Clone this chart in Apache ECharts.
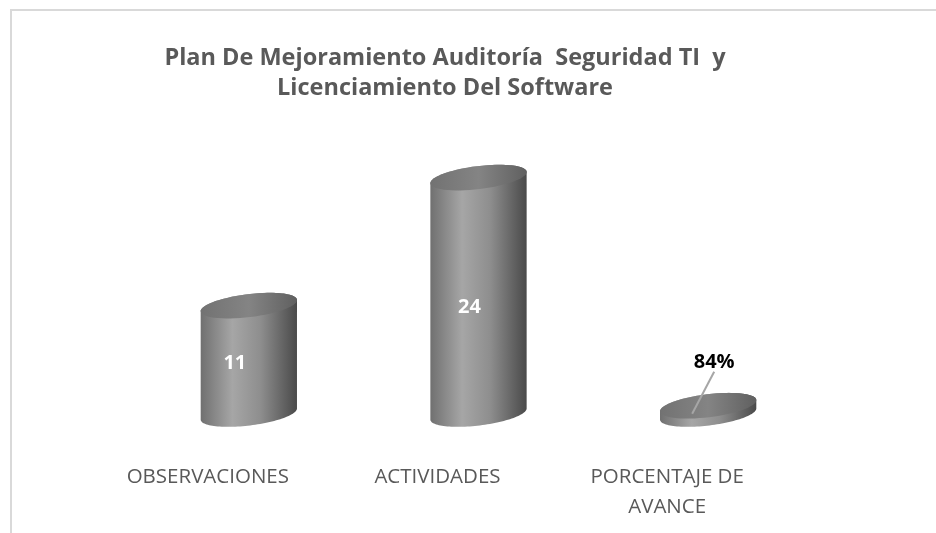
<!DOCTYPE html>
<html><head><meta charset="utf-8">
<script src="https://cdn.jsdelivr.net/npm/echarts@6/dist/echarts.min.js"></script>
<style>html,body{margin:0;padding:0;background:#fff}#c{width:936px;height:533px}</style></head>
<body><div id="c"></div>
<script>
const titleText = 'Plan De Mejoramiento Auditoría  Seguridad TI  y\nLicenciamiento Del Software';
const categories = ['OBSERVACIONES', 'ACTIVIDADES', 'PORCENTAJE DE\nAVANCE'];
const values = [11, 24, 0.84];
const labels = ['11', '24', '84%'];

const chart = echarts.init(document.getElementById('c'), null, {renderer: 'canvas'});
const RX = 48.5, RY = 11.5, TILT = -7 * Math.PI / 180, N = 60;
const labelShift = [[-14, 3], [-9, 11]];
function ell(cx, cy, a0, a1) {
  const pts = [];
  for (let i = 0; i <= N; i++) {
    const t = a0 + (a1 - a0) * i / N;
    const x = RX * Math.cos(t), y = RY * Math.sin(t);
    pts.push([cx + x * Math.cos(TILT) - y * Math.sin(TILT), cy + x * Math.sin(TILT) + y * Math.cos(TILT)]);
  }
  return pts;
}
const bodyFill = new echarts.graphic.LinearGradient(0, 0, 1, 0, [
  {offset: 0, color: '#707070'}, {offset: 0.33, color: '#a6a6a6'},
  {offset: 0.62, color: '#8e8e8e'}, {offset: 1, color: '#4a4a4a'}]);
const topFill = new echarts.graphic.LinearGradient(0, 0, 1, 0, [
  {offset: 0, color: '#727272'}, {offset: 0.5, color: '#848484'}, {offset: 1, color: '#606060'}]);

function renderItem(params, api) {
  const i = api.value(0);
  const base = api.coord([i, 0]), top = api.coord([i, api.value(1)]);
  const cx = base[0];
  const body = ell(cx, base[1], 0, Math.PI).concat(ell(cx, top[1], Math.PI, 2 * Math.PI));
  const children = [
    {type: 'polygon', shape: {points: body}, style: {fill: bodyFill}},
    {type: 'polygon', shape: {points: ell(cx, top[1], 0, 2 * Math.PI)}, style: {fill: topFill}}
  ];
  if (api.value(1) < 2) {
    children.push({type: 'line', shape: {x1: cx - 16, y1: top[1] + 8, x2: cx + 6, y2: top[1] - 34},
      style: {stroke: '#a6a6a6', lineWidth: 2}});
    children.push({type: 'text', style: {text: labels[i], x: cx + 6, y: top[1] - 43, align: 'center', verticalAlign: 'middle',
      fill: '#000', font: 'bold 20px "Open Sans"'}});
  } else {
    children.push({type: 'text', style: {text: labels[i], x: cx + labelShift[i][0], y: (base[1] + top[1]) / 2 + labelShift[i][1],
      align: 'center', verticalAlign: 'middle', fill: '#fff', font: 'bold 20px "Open Sans"'}});
  }
  return {type: 'group', children};
}

chart.setOption({
  animation: false,
  backgroundColor: '#fff',
  title: {text: titleText, left: 440, top: 38, textAlign: 'center',
    textStyle: {fontFamily: 'Open Sans', fontWeight: 'bold', fontSize: 23.5, color: '#595959', lineHeight: 30, align: 'center'}},
  grid: {left: 134, width: 689, top: 118.5, height: 295.5},
  xAxis: {type: 'category', data: categories, axisLine: {show: false}, axisTick: {show: false},
    axisLabel: {interval: 0, margin: 48, padding: [0, 82, 0, 0], fontFamily: 'Open Sans', fontSize: 20.5, color: '#595959', lineHeight: 30}},
  yAxis: {type: 'value', min: 0, max: 30, show: false},
  series: [{type: 'custom', renderItem, encode: {x: 0, y: 1}, clip: false,
    data: values.map((v, i) => [i, v])}],
  graphic: [{type: 'polyline', silent: true, shape: {points: [[11, 533], [11, 10], [936, 10]]},
    style: {stroke: '#d9d9d9', lineWidth: 2, fill: null}}]
});
</script></body></html>
